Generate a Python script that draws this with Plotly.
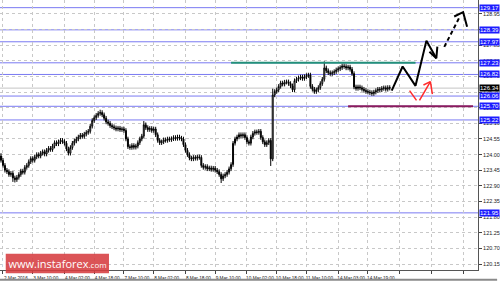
import plotly.graph_objects as go

# ---------------- data (EUR/JPY H1, March 2016) ----------------
closes = [
    123.80, 123.62, 123.45, 123.40, 123.30, 123.34, 123.18, 123.12, 123.20, 123.30,
    123.42, 123.38, 123.55, 123.62, 123.75, 123.86, 123.80, 123.92, 124.00, 123.95,
    124.05, 124.10, 124.02, 124.15, 124.22, 124.18, 124.30, 124.42, 124.38, 124.45,
    124.50, 124.46, 124.40, 124.20, 124.05, 124.25, 124.40, 124.48, 124.55, 124.62,
    124.68, 124.64, 124.72, 124.78, 124.82, 125.00, 125.20, 125.30, 125.38, 125.45,
    125.48, 125.40, 125.28, 125.15, 125.10, 125.02, 124.98, 124.94, 124.90, 124.93,
    124.88, 124.90, 124.85, 124.55, 124.28, 124.25, 124.32, 124.26, 124.30, 124.42,
    124.55, 124.65, 125.05, 124.95, 124.88, 124.92, 124.85, 124.90, 124.70, 124.50,
    124.42, 124.45, 124.52, 124.50, 124.55, 124.53, 124.56, 124.60, 124.57, 124.62,
    124.58, 124.55, 124.35, 124.15, 124.00, 123.88, 123.85, 123.90, 123.87, 123.92,
    123.90, 123.62, 123.55, 123.58, 123.50, 123.53, 123.48, 123.52, 123.45, 123.40,
    123.30, 123.15, 123.25, 123.30, 123.38, 123.50, 123.65, 124.40, 124.55, 124.62,
    124.70, 124.66, 124.70, 124.60, 124.45, 124.40, 124.62, 124.75, 124.80, 124.78,
    124.82, 124.60, 124.45, 124.35, 124.42, 124.50, 123.85, 126.10, 126.22, 126.28,
    126.40, 126.52, 126.48, 126.55, 126.56, 126.50, 126.42, 126.28, 126.60, 126.65,
    126.70, 126.73, 126.68, 126.74, 126.78, 126.80, 126.40, 126.30, 126.22, 126.28,
    126.36, 126.50, 126.65, 127.05, 126.95, 126.88, 126.85, 126.88, 126.92, 126.98,
    127.02, 127.06, 127.12, 127.10, 127.05, 127.08, 127.00, 126.85, 126.38, 126.33,
    126.38, 126.35, 126.30, 126.26, 126.22, 126.20, 126.18, 126.15, 126.20, 126.25,
    126.30, 126.28, 126.33, 126.35, 126.30, 126.36, 126.34,
]
first_open = 123.95
# extremes (bar index -> price)
high_extremes = {0: 124.05, 50: 125.58, 72: 125.18, 137: 126.32, 163: 127.28, 172: 127.20}
low_extremes = {6: 123.04, 7: 123.02, 111: 123.00, 136: 123.60}
wick = 0.08

y_tick_values = [120.15, 120.70, 121.25, 121.80, 122.35, 122.90, 123.45, 124.00, 124.55,
                 125.10, 125.65, 126.20, 126.75, 127.30, 127.85, 128.40, 128.95]
x_tick_bars = [1, 16, 32, 47, 62, 77, 93, 108, 124, 139, 154, 170, 185, 201, 217, 233]
x_tick_labels = ["2 Mar 2016", "3 Mar 10:00", "4 Mar 02:00", "4 Mar 18:00", "7 Mar 10:00",
                 "8 Mar 02:00", "8 Mar 18:00", "9 Mar 10:00", "10 Mar 02:00", "10 Mar 18:00",
                 "11 Mar 10:00", "14 Mar 03:00", "14 Mar 19:00", "", "", ""]

level_lines = [129.17, 128.39, 127.97, 127.23, 126.82, 126.06, 125.70, 125.22, 121.95]
bid_price = 126.34
resistance_level = 127.23
resistance_span = [116, 209]
support_level = 125.70
support_span = [175, 238]

main_path_x = [197, 202.5, 209, 214.5, 219.5, 216]
main_path_y = [126.25, 127.10, 126.42, 128.01, 127.39, 127.62]
main_head_x = [219.5, 220]
main_head_y = [127.39, 127.80]
alt_path_x = [223.5, 231.5]
alt_path_y = [127.79, 128.88]
alt_head_x = [228.5, 233, 235]
alt_head_y = [128.86, 129.01, 128.50]
red_path_x = [206, 209.5, None, 211, 216.5, 217.5]
red_path_y = [126.25, 125.91, None, 125.91, 126.57, 126.13]
red_head_x = [213, 216.5]
red_head_y = [126.45, 126.57]

# ---------------- build ----------------
n = len(closes)
bars = list(range(n))
opens = [first_open] + closes[:-1]
highs = [high_extremes.get(i, max(opens[i], closes[i]) + wick) for i in bars]
lows = [low_extremes.get(i, min(opens[i], closes[i]) - wick) for i in bars]

fig = go.Figure()
fig.add_trace(go.Candlestick(
    x=bars, open=opens, high=highs, low=lows, close=closes,
    increasing=dict(line=dict(color="black", width=1), fillcolor="white"),
    decreasing=dict(line=dict(color="black", width=1), fillcolor="black"),
    whiskerwidth=0, hoverinfo="skip", showlegend=False))

fig.add_trace(go.Scatter(x=resistance_span, y=[resistance_level] * 2, mode="lines",
                         line=dict(color="#23907a", width=2), showlegend=False, hoverinfo="skip"))
fig.add_trace(go.Scatter(x=support_span, y=[support_level] * 2, mode="lines",
                         line=dict(color="#8a1a5e", width=2), showlegend=False, hoverinfo="skip"))
fig.add_trace(go.Scatter(x=main_path_x[:5], y=main_path_y[:5], mode="lines",
                         line=dict(color="black", width=2), showlegend=False, hoverinfo="skip"))
fig.add_trace(go.Scatter(x=[main_path_x[5], main_head_x[0], main_head_x[1]],
                         y=[main_path_y[5], main_head_y[0], main_head_y[1]], mode="lines",
                         line=dict(color="black", width=2), showlegend=False, hoverinfo="skip"))
fig.add_trace(go.Scatter(x=alt_path_x, y=alt_path_y, mode="lines",
                         line=dict(color="black", width=2, dash="4px,3px"), showlegend=False, hoverinfo="skip"))
fig.add_trace(go.Scatter(x=alt_head_x, y=alt_head_y, mode="lines",
                         line=dict(color="black", width=2), showlegend=False, hoverinfo="skip"))
fig.add_trace(go.Scatter(x=red_path_x, y=red_path_y, mode="lines", connectgaps=False,
                         line=dict(color="#ff2a2a", width=1.5), showlegend=False, hoverinfo="skip"))
fig.add_trace(go.Scatter(x=red_head_x, y=red_head_y, mode="lines",
                         line=dict(color="#ff2a2a", width=1.5), showlegend=False, hoverinfo="skip"))

shapes = []
for lvl in level_lines:
    shapes.append(dict(type="line", xref="paper", x0=0, x1=1, yref="y", y0=lvl, y1=lvl,
                       line=dict(color="#7a7af2", width=1), layer="below"))
shapes.append(dict(type="line", xref="paper", x0=0, x1=1, yref="y", y0=bid_price, y1=bid_price,
                   line=dict(color="#c4c4c4", width=1), layer="below"))
# logo box and window border
shapes.append(dict(type="rect", xref="paper", yref="paper", x0=0.012, x1=0.228, y0=-0.012, y1=0.06,
                   fillcolor="rgba(214,60,64,0.88)", line=dict(width=0), layer="above"))
shapes.append(dict(type="line", xref="paper", yref="paper", x0=0, x1=1.04, y0=-0.036, y1=-0.036,
                   line=dict(color="#8a8a8a", width=2)))

annotations = []
for lvl in level_lines:
    annotations.append(dict(x=1, xref="paper", xanchor="left", xshift=1, y=lvl, yref="y",
                            text=f"{lvl:.2f}", showarrow=False, bgcolor="#1c1cff", borderpad=0,
                            font=dict(size=6, color="white", family="Liberation Sans")))
annotations.append(dict(x=1, xref="paper", xanchor="left", xshift=1, y=bid_price, yref="y",
                        text=f"{bid_price:.2f}", showarrow=False, bgcolor="black", borderpad=0,
                        font=dict(size=6, color="white", family="Liberation Sans")))
annotations.append(dict(x=0.12, xref="paper", xanchor="center", y=0.024, yref="paper",
                        yanchor="middle", showarrow=False,
                        text="[ www.instaforex<span style='font-size:8px'>.com</span> ]",
                        font=dict(size=11, color="white", family="Open Sans")))

fig.update_layout(
    width=500, height=282, margin=dict(l=0, r=18, t=0, b=12),
    paper_bgcolor="white", plot_bgcolor="white",
    shapes=shapes, annotations=annotations, showlegend=False,
    xaxis=dict(range=[-0.5, 240.5], rangeslider=dict(visible=False),
               tickvals=x_tick_bars, ticktext=x_tick_labels, ticklabelshift=13, tickangle=0,
               tickfont=dict(size=4.7, color="#222", family="Liberation Sans"),
               ticks="outside", ticklen=3, tickcolor="#444",
               showline=True, linecolor="#555", linewidth=1,
               showgrid=True, gridcolor="#c8c8c8", griddash="dot", gridwidth=1, zeroline=False),
    yaxis=dict(range=[119.94, 129.44], side="right",
               tickvals=y_tick_values, ticktext=[f"{v:.2f}" for v in y_tick_values],
               tickfont=dict(size=5.5, color="#222", family="Liberation Sans"),
               ticks="outside", ticklen=3, tickcolor="#444",
               showline=True, linecolor="#555", linewidth=1,
               showgrid=True, gridcolor="#c8c8c8", griddash="dot", gridwidth=1, zeroline=False),
)

fig.write_html("out.html")
